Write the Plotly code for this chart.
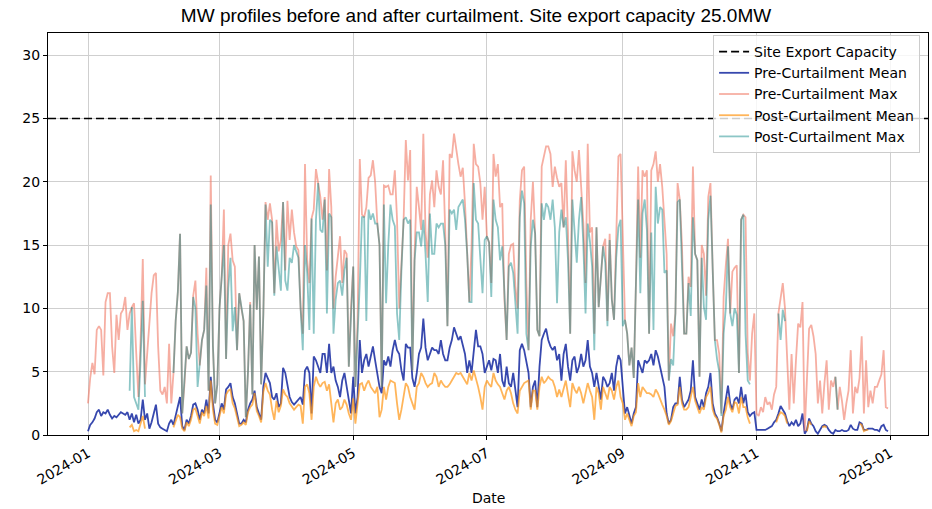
import pandas as pd
import plotly.graph_objects as go

N = None
capacity_mw = 25.0
start_date = "2024-01-01"

# Daily values (MW), one row = 10 days
pre_mean = [
    0.3, 0.8, 1.0, 1.3, 1.8, 2.0, 1.5, 1.8, 1.7, 2.0,
    1.6, 1.3, 1.5, 1.4, 1.6, 1.8, 1.7, 1.6, 1.8, 1.2,
    1.7, 1.0, 1.6, 0.9, 1.2, 2.8, 1.2, 1.7, 0.5, 1.0,
    1.7, 2.4, 0.9, 0.6, 0.5, 0.4, 0.3, 0.9, 1.2, 0.8,
    1.5, 2.3, 3.0, 0.7, 0.4, 1.2, 0.9, 1.5, 2.4, 2.5,
    2.0, 1.2, 2.0, 1.7, 2.8, 1.7, 4.6, 2.5, 1.2, 1.0,
    1.7, 2.5, 2.0, 3.6, 3.8, 4.1, 3.0, 2.5, 1.7, 0.9,
    0.9, 1.2, 1.0, 2.0, 2.5, 2.8, 3.5, 2.2, 1.7, 1.2,
    3.8, 4.9, 4.5, 4.1, 3.0, 2.8, 3.3, 2.2, 2.5, 5.3,
    4.9, 3.8, 3.0, 2.6, 2.4, 2.6, 2.8, 3.0, 2.4, 5.1,
    5.4, 4.9, 1.7, 6.2, 5.9, 5.3, 4.9, 6.4, 6.4, 4.9,
    7.2, 4.9, 5.4, 4.3, 3.8, 3.0, 4.3, 4.9, 3.8, 3.0,
    1.7, 4.6, 1.7, 3.0, 7.5, 4.9, 5.9, 6.4, 5.4, 6.2,
    7.0, 5.9, 5.0, 3.8, 3.3, 5.9, 5.5, 6.2, 5.4, 6.7,
    7.5, 6.7, 6.4, 5.1, 4.3, 7.2, 6.9, 6.9, 4.5, 3.8,
    4.9, 6.4, 6.9, 9.2, 6.9, 5.9, 6.4, 6.9, 6.7, 6.7,
    6.4, 7.5, 6.4, 5.9, 5.9, 6.9, 7.5, 8.5, 8.0, 7.5,
    7.8, 7.0, 6.4, 4.9, 5.9, 4.9, 6.4, 8.3, 7.0, 7.0,
    6.4, 4.9, 5.4, 5.9, 5.1, 6.0, 5.9, 4.9, 6.4, 4.3,
    3.8, 5.4, 4.1, 3.8, 4.9, 3.3, 2.2, 6.7, 7.2, 6.7,
    5.9, 4.9, 2.2, 3.8, 4.3, 2.2, 5.4, 7.5, 8.0, 8.4,
    7.5, 7.0, 6.7, 7.0, 5.9, 6.4, 4.3, 6.4, 7.2, 5.4,
    4.3, 5.9, 6.2, 4.9, 5.4, 6.4, 5.4, 5.9, 7.5, 5.4,
    4.9, 3.8, 4.9, 3.8, 2.8, 4.6, 4.3, 3.8, 4.1, 4.9,
    3.5, 5.4, 6.3, 5.9, 3.8, 1.7, 2.2, 1.6, 0.9, 1.7,
    2.2, 5.9, 5.4, 4.9, 5.9, 5.7, 5.9, 6.4, 5.5, 6.7,
    6.2, 5.4, 4.5, 3.8, 1.7, 0.9, 1.2, 2.2, 2.5, 2.5,
    4.6, 2.8, 2.2, 2.5, 2.8, 3.5, 5.9, 3.0, 2.5, 2.0,
    2.8, 2.2, 3.3, 3.8, 4.9, 2.5, 1.7, 1.4, 0.9, 0.3,
    1.7, 3.0, 3.9, 2.5, 2.0, 2.8, 3.0, 2.5, 3.8, 2.5,
    3.2, 1.8, 1.5, 1.7, 1.8, 0.4, 0.4, 0.4, 0.4, 0.4,
    0.5, 0.6, 0.7, 1.0, 1.2, 1.7, 2.3, 2.0, 1.7, 1.1,
    0.7, 1.0, 0.8, 1.2, 0.7, 0.9, 1.7, 0.1, 0.4, 1.3,
    0.9, 0.7, 0.3, 0.1, 0.4, 0.7, 0.8, 0.7, 0.4, 0.2,
    0.1, 0.4, 0.3, 0.3, 0.4, 0.3, 0.3, 0.4, 0.8, 0.5,
    0.4, 0.4, 1.0, 0.9, 0.4, 0.4, 0.5, 0.5, 0.5, 0.4,
    0.4, 0.3, 0.7, 0.8, 0.4, 0.3,
]

pre_max = [
    2.5, 4.5, 5.7, 4.8, 8.3, 8.6, 8.3, 4.7, 10.5, 11.2,
    11.2, 7.0, 4.9, 9.5, 7.5, 9.6, 9.9, 10.9, 8.3, 9.6,
    10.1, 10.4, 6.5, 3.0, 7.5, 13.9, 4.0, 6.4, 9.0, 11.2,
    12.6, 12.8, 7.0, 3.5, 3.2, 3.8, 2.5, 7.2, 2.5, 4.9,
    9.0, 11.3, 15.9, 1.7, 4.0, 7.0, 6.0, 6.5, 11.0, 12.2,
    8.0, 5.5, 7.5, 8.3, 13.2, 3.5, 20.5, 7.0, 2.5, 4.0,
    10.0, 12.5, 17.8, 6.0, 15.0, 15.9, 13.8, 13.3, 6.7, 11.2,
    10.0, 9.0, 1.4, 5.0, 10.5, 3.2, 15.0, 9.9, 14.1, 4.0,
    9.6, 18.4, 17.0, 18.3, 17.0, 11.2, 17.0, 14.5, 15.4, 18.4,
    13.0, 18.5, 15.4, 17.8, 16.0, 14.9, 14.6, 10.0, 8.0, 21.4,
    13.8, 12.0, 17.1, 17.8, 21.0, 19.9, 18.8, 17.0, 18.8, 13.0,
    21.0, 18.0, 10.0, 12.5, 14.0, 15.7, 12.0, 14.6, 14.3, 5.4,
    10.0, 13.3, 3.8, 9.0, 21.8, 17.4, 17.2, 18.0, 20.3, 20.5,
    21.7, 20.0, 16.7, 15.0, 3.8, 19.7, 19.6, 19.7, 19.0, 19.0,
    20.9, 17.0, 10.0, 14.0, 17.0, 23.3, 20.1, 22.5, 5.1, 14.3,
    19.6, 18.0, 16.2, 23.8, 16.0, 14.0, 19.0, 20.1, 18.0, 20.9,
    19.6, 19.0, 21.7, 16.0, 8.6, 22.2, 21.9, 23.8, 22.5, 21.4,
    20.4, 21.1, 18.3, 14.3, 10.5, 14.9, 23.0, 21.4, 21.2, 19.9,
    17.0, 19.6, 15.7, 15.2, 12.0, 22.2, 20.4, 21.4, 18.0, 18.3,
    10.7, 7.5, 14.3, 15.0, 15.1, 11.7, 10.0, 18.5, 20.9, 21.2,
    12.0, 6.7, 17.0, 20.0, 15.9, 8.3, 7.8, 21.2, 22.0, 22.8,
    22.8, 22.2, 19.6, 21.2, 20.3, 19.6, 19.9, 16.4, 21.7, 16.0,
    8.0, 22.4, 20.9, 20.0, 22.5, 20.0, 16.7, 12.0, 23.0, 16.0,
    16.4, 8.0, 16.4, 10.1, 13.0, 14.9, 15.5, 9.0, 15.9, 10.7,
    9.1, 15.0, 22.0, 22.2, 15.7, 9.1, 8.0, 5.5, 6.9, 4.5,
    12.0, 21.2, 14.0, 20.9, 20.4, 20.9, 8.0, 20.9, 21.4, 22.4,
    20.0, 21.4, 19.6, 17.0, 14.3, 4.3, 8.8, 7.8, 9.6, 19.9,
    18.6, 15.0, 8.0, 8.0, 12.5, 11.7, 21.2, 14.3, 13.8, 4.6,
    15.0, 14.3, 11.0, 18.8, 19.9, 13.2, 7.5, 7.5, 6.4, 1.7,
    10.9, 13.4, 15.5, 9.6, 12.9, 13.2, 13.4, 4.9, 17.0, 17.4,
    17.2, 6.5, 4.3, 8.0, 9.6, 1.7, 1.5, 2.2, 1.8, 3.0,
    2.4, 2.6, 2.0, 3.2, 3.8, 9.6, 11.0, 12.0, 10.0, 6.4,
    2.0, 6.4, 2.5, 5.9, 8.8, 8.5, 10.5, 0.3, 5.0, 8.4,
    8.7, 7.8, 6.4, 2.5, 4.3, 1.7, 4.1, 5.9, 2.0, 4.3,
    3.8, 4.6, 2.0, 3.8, 2.7, 1.2, 2.5, 3.5, 6.7, 1.7,
    3.8, 3.3, 4.5, 7.8, 1.7, 5.9, 2.2, 3.5, 2.5, 3.8,
    3.8, 4.3, 4.8, 6.7, 2.2, 2.1,
]

post_mean = [
    N, N, N, N, N, N, N, N, N, N,
    N, N, N, N, N, N, N, N, N, 0.6,
    0.8, 0.3, 0.4, 0.3, 1.0, 1.5, 0.5, N, N, N,
    N, N, N, N, N, N, N, N, N, 0.6,
    1.2, 1.6, 1.4, 0.5, 0.3, 1.0, 0.7, 1.2, 2.0, 2.1,
    1.5, 0.9, 1.8, 1.5, 2.3, 1.3, 4.3, 2.0, 0.9, 0.8,
    1.5, 2.2, 1.7, 3.2, 3.5, 3.6, 2.5, 2.1, 1.4, 0.7,
    0.8, 1.0, 0.8, 1.8, 2.2, 2.4, 3.3, 1.9, 1.5, 1.0,
    3.4, 4.1, 3.5, 3.2, 2.0, 1.2, 2.7, 1.8, 2.3, 3.6,
    3.2, 3.0, 2.5, 2.2, 2.0, 2.2, 2.4, 2.3, 0.9, 3.8,
    4.0, 3.3, 1.2, 3.8, 4.6, 4.1, 3.8, 4.1, 4.2, 3.5,
    4.0, 2.5, 1.0, 2.5, 2.8, 2.0, 2.2, 2.8, 2.4, 1.7,
    1.2, 2.9, 0.9, 2.5, 4.0, 4.1, 3.5, 4.0, 4.3, 3.8,
    3.5, 3.3, 3.8, 1.4, 2.0, 3.8, 2.8, 3.8, 4.3, 4.2,
    4.1, 2.5, 1.2, 2.0, 3.0, 4.1, 3.8, 3.0, 2.5, 2.0,
    3.8, 4.1, 4.9, 4.6, 4.1, 3.8, 4.0, 4.1, 4.9, 4.6,
    3.8, 4.3, 4.0, 3.8, 3.8, 4.0, 4.3, 4.6, 4.9, 4.8,
    4.9, 4.6, 4.3, 4.0, 4.9, 4.3, 5.1, 4.5, 3.8, 3.0,
    2.0, 3.8, 4.3, 4.0, 3.8, 4.9, 4.3, 4.0, 3.8, 3.3,
    2.8, 3.5, 3.8, 3.3, 2.5, 2.0, 1.7, 3.5, 3.8, 4.1,
    4.2, 4.3, 2.0, 3.5, 3.5, 2.0, 3.8, 4.6, 4.1, 4.3,
    4.6, 4.4, 4.3, 3.8, 3.0, 3.6, 3.0, 3.6, 4.3, 3.2,
    2.2, 4.1, 3.6, 3.3, 3.8, 3.3, 2.5, 3.3, 4.1, 3.5,
    3.0, 1.2, 3.8, 3.3, 2.0, 3.8, 3.3, 2.8, 3.8, 3.5,
    2.8, 3.8, 4.3, 3.0, 2.5, 1.2, 1.7, 1.2, 0.7, 1.5,
    1.8, 4.1, 3.0, 3.8, 3.5, 3.3, 3.3, 3.2, 3.0, 3.6,
    3.3, 2.8, 2.4, 2.0, 1.5, 0.8, 1.1, 1.7, 2.3, 2.4,
    3.8, 2.5, 2.0, 2.0, 2.2, 3.0, 3.8, 2.7, 2.2, 1.7,
    2.2, 2.0, 3.0, 3.3, 3.8, 2.0, 1.5, 1.3, 0.8, 0.2,
    1.5, 2.0, 3.0, 2.2, 1.8, 2.6, 2.5, 1.7, 3.0, 2.2,
    2.2, 1.4, 0.9, N, N, N, N, N, N, N,
    N, N, N, N, 1.0, 1.5, 1.8, 1.7, 1.5, 0.9,
    N, N, N, N, N, N, N, N, 0.3, 1.1,
    0.8, N, N, N, N, 0.6, 0.7, 0.6, N, N,
    N, N, N, N, N, N, N, N, N, N,
    N, N, 0.9, 0.8, 0.3, 0.4, 0.4, N, N, N,
    N, N, N, N, N, N,
]

post_max = [
    N, N, N, N, N, N, N, N, N, N,
    N, N, N, N, N, N, N, N, N, 3.5,
    10.1, 3.0, 2.5, 2.0, 6.0, 10.6, 3.0, N, N, N,
    N, N, N, N, N, N, N, N, N, 4.9,
    9.0, 11.3, 15.9, 1.7, 4.0, 7.0, 6.0, 6.5, 10.9, 10.0,
    3.8, 5.5, 7.5, 8.3, 11.8, 3.5, 18.2, 7.0, 2.5, 4.0,
    10.0, 12.5, 15.0, 6.0, 11.6, 14.0, 8.2, 10.1, 6.7, 11.2,
    10.0, 9.0, 1.4, 5.0, 10.3, 3.2, 15.0, 9.9, 14.1, 4.0,
    9.6, 18.2, 13.3, 17.0, 16.8, 11.0, 14.9, 13.4, 11.4, 18.4,
    12.2, 11.4, 14.0, 13.6, 15.0, 14.5, 14.0, 10.0, 6.7, 15.0,
    12.8, 8.3, 17.1, 8.0, 17.0, 19.9, 16.2, 16.0, 18.6, 9.6,
    17.5, 17.2, 8.0, 10.7, 12.0, 12.2, 11.0, 13.0, 14.0, 5.4,
    9.9, 13.3, 3.8, 7.8, 12.0, 17.2, 17.2, 9.0, 17.8, 17.0,
    17.5, 16.7, 16.7, 15.0, 3.8, 18.2, 10.4, 15.0, 18.2, 17.0,
    16.5, 9.6, 7.5, 13.0, 17.0, 17.2, 16.7, 17.0, 5.1, 13.8,
    16.0, 16.0, 14.9, 17.0, 14.3, 10.5, 17.5, 14.3, 14.3, 16.7,
    16.4, 16.7, 16.7, 15.0, 8.6, 17.8, 17.5, 17.8, 16.2, 18.0,
    18.3, 18.6, 17.0, 14.3, 10.5, 10.5, 19.9, 17.0, 16.7, 13.8,
    11.2, 15.4, 15.7, 15.2, 10.9, 18.6, 17.0, 16.4, 13.8, 14.9,
    10.7, 7.5, 13.3, 13.6, 12.8, 10.1, 8.0, 17.2, 19.3, 18.3,
    8.0, 6.7, 14.9, 17.0, 15.9, 8.3, 7.8, 18.3, 17.0, 18.3,
    18.0, 17.0, 18.6, 16.4, 10.4, 16.0, 17.8, 16.4, 17.2, 13.8,
    8.0, 18.6, 15.7, 13.6, 17.0, 18.8, 15.0, 9.6, 16.7, 15.3,
    13.3, 6.7, 16.4, 10.1, 12.5, 14.9, 13.6, 8.6, 15.4, 10.7,
    9.1, 14.0, 16.4, 17.0, 8.6, 9.1, 8.0, 5.5, 6.9, 4.5,
    12.0, 18.6, 11.2, 17.5, 18.6, 16.2, 8.0, 16.0, 8.3, 19.6,
    16.7, 18.0, 17.8, 12.8, 13.0, 4.3, 6.0, 5.5, 9.6, 18.4,
    18.6, 13.6, 8.0, 8.0, 12.0, 9.4, 17.2, 14.3, 13.8, 4.6,
    14.0, 10.1, 9.1, 17.0, 18.9, 13.2, 7.5, 6.0, 5.0, 1.5,
    8.0, 10.0, 14.9, 9.6, 8.6, 10.0, 9.5, 4.9, 17.0, 17.4,
    8.0, 4.3, 4.0, N, N, N, N, N, N, N,
    N, N, N, N, N, 9.6, 7.5, 9.9, 9.0, N,
    N, N, N, N, N, N, N, N, N, N,
    N, N, N, N, N, N, N, N, N, N,
    N, 4.6, 2.0, N, N, N, N, N, N, N,
    N, N, N, N, N, N, N, N, N, N,
    N, N, N, N, N, N,
]

y_ticks = [0, 5, 10, 15, 20, 25, 30]

dates = pd.date_range(start_date, periods=len(pre_mean), freq="D")
span = dates[-1] - dates[0]
x_range = [dates[0] - span * 0.05, dates[-1] + span * 0.05]

fig = go.Figure()
fig.add_trace(go.Scatter(x=dates, y=pre_mean, mode="lines", name="Pre-Curtailment Mean",
                         line=dict(color="rgba(20,40,160,0.85)", width=1.8)))
fig.add_trace(go.Scatter(x=dates, y=pre_max, mode="lines", name="Pre-Curtailment Max",
                         line=dict(color="rgba(240,125,105,0.62)", width=1.8)))
fig.add_trace(go.Scatter(x=dates[:len(post_mean)], y=post_mean, mode="lines", name="Post-Curtailment Mean",
                         line=dict(color="rgba(255,150,20,0.7)", width=1.8)))
fig.add_trace(go.Scatter(x=dates[:len(post_max)], y=post_max, mode="lines", name="Post-Curtailment Max",
                         line=dict(color="rgba(0,128,128,0.45)", width=1.8)))

fig.add_shape(type="line", xref="paper", x0=0, x1=1, yref="y", y0=capacity_mw, y1=capacity_mw,
              line=dict(color="black", width=1.6, dash="8px,4px"), layer="above",
              showlegend=True, name="Site Export Capacity", legendrank=1)

fig.add_annotation(text="Date", xref="paper", yref="paper", x=0.5, y=-63 / 402,
                   xanchor="center", yanchor="middle", showarrow=False, font=dict(size=14))

fig.update_layout(
    width=932, height=509,
    margin=dict(l=48, r=4, t=33, b=74),
    paper_bgcolor="white", plot_bgcolor="white",
    font=dict(family="DejaVu Sans", size=14, color="black"),
    title=dict(text=f"MW profiles before and after curtailment. Site export capacity {capacity_mw:.1f}MW",
               x=476 / 932, xref="container", xanchor="center", y=1 - 15 / 509, yref="container",
               yanchor="middle", font=dict(size=19, family="Liberation Sans, Arial, sans-serif")),
    legend=dict(x=0.991, y=0.995, xanchor="right", yanchor="top", bgcolor="rgba(255,255,255,0.8)",
                bordercolor="#cccccc", borderwidth=1, font=dict(size=14), itemwidth=30),
    showlegend=True,
)
fig.update_xaxes(range=x_range, type="date", tick0="2024-01-01", dtick="M2", tickformat="%Y-%m",
                 tickangle=-30, showgrid=True, gridcolor="#cfcfcf", gridwidth=1, showline=True,
                 linecolor="black", linewidth=1, mirror=True, ticks="outside", ticklen=4,
                 tickcolor="black", zeroline=False, automargin=False)
fig.update_yaxes(range=[0, 31.75], tickvals=y_ticks, showgrid=True, gridcolor="#cfcfcf", gridwidth=1,
                 showline=True, linecolor="black", linewidth=1, mirror=True, ticks="outside", ticklen=4,
                 tickcolor="black", zeroline=False, automargin=False)

fig.write_html("out.html", config={"displayModeBar": False},
               post_script="document.body.style.margin='0';")
